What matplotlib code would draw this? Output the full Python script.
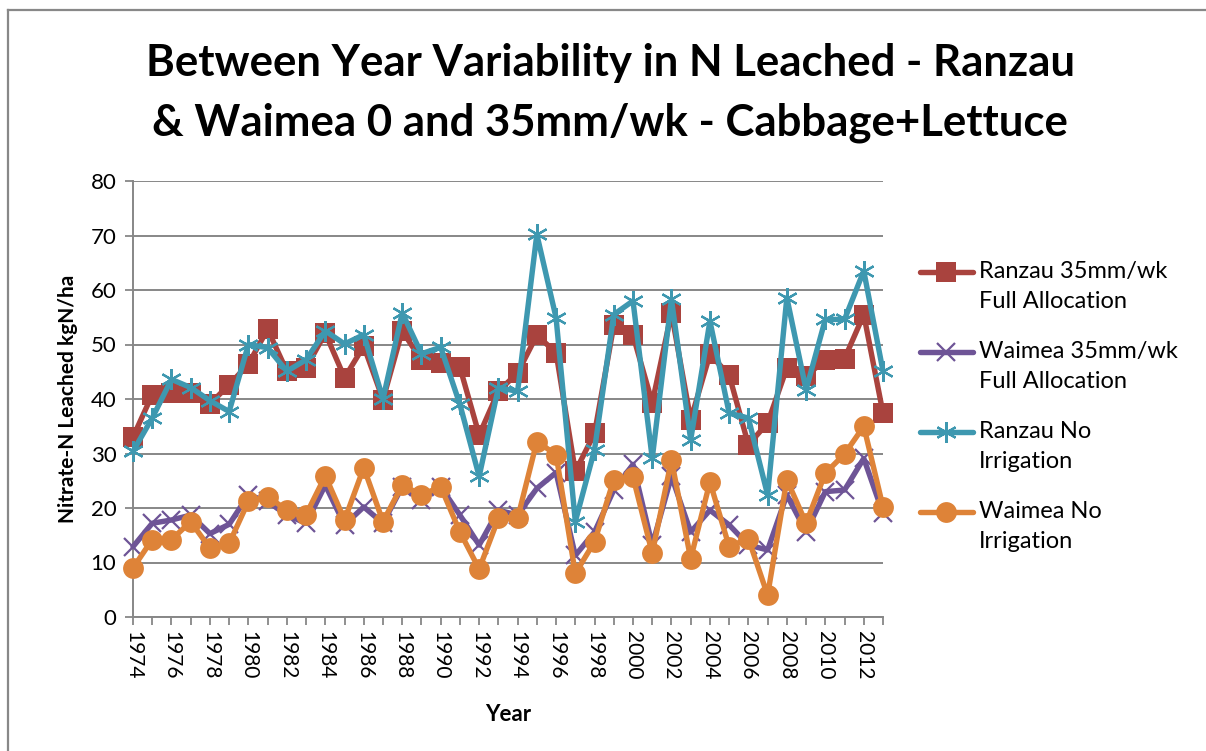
import matplotlib
matplotlib.use("Agg")
import matplotlib.pyplot as plt
from matplotlib.lines import Line2D

plt.rcParams['font.family'] = ['Lato', 'DejaVu Sans']

years = list(range(1974, 2014))

ranzau_35 = [33.0, 40.8, 41.1, 41.1, 39.1, 42.6, 46.4, 52.8, 45.1, 45.7,
             52.1, 43.9, 49.7, 39.9, 52.5, 47.1, 46.6, 45.8, 33.4, 41.4,
             44.8, 51.7, 48.5, 26.7, 33.7, 53.5, 51.7, 39.3, 55.8, 36.2,
             48.2, 44.4, 31.6, 35.6, 45.7, 44.2, 47.2, 47.4, 55.5, 37.4]
waimea_35 = [12.9, 17.2, 17.8, 18.7, 15.3, 17.0, 22.4, 21.2, 18.7, 17.2,
             24.2, 16.9, 20.2, 17.2, 23.9, 21.5, 23.9, 18.7, 13.2, 19.6,
             18.7, 23.6, 26.5, 11.3, 15.6, 23.3, 28.0, 13.2, 25.8, 15.6,
             19.6, 16.9, 13.2, 12.3, 22.4, 15.6, 23.0, 23.3, 29.1, 19.0]
ranzau_0 = [30.4, 36.5, 43.6, 42.1, 39.7, 37.7, 50.0, 49.4, 45.1, 47.2,
            52.5, 50.1, 51.8, 40.0, 55.8, 48.3, 49.5, 39.0, 25.8, 42.1,
            41.4, 70.2, 54.9, 17.5, 30.7, 55.5, 58.0, 29.1, 58.3, 32.5,
            54.3, 37.4, 36.5, 22.4, 58.6, 41.7, 54.6, 54.6, 63.5, 45.1]
waimea_0 = [9.0, 14.2, 14.2, 17.5, 12.6, 13.5, 21.2, 22.1, 19.6, 18.8,
            25.9, 17.8, 27.4, 17.5, 24.2, 22.4, 23.9, 15.6, 8.8, 18.1,
            18.1, 32.2, 29.8, 8.0, 13.8, 25.2, 25.7, 11.7, 28.8, 10.7,
            24.8, 12.9, 14.4, 4.0, 25.2, 17.2, 26.4, 29.9, 35.0, 20.2]

labels = ["Ranzau 35mm/wk\nFull Allocation",
          "Waimea 35mm/wk\nFull Allocation",
          "Ranzau No\nIrrigation",
          "Waimea No\nIrrigation"]
title = "Between Year Variability in N Leached - Ranzau\n& Waimea 0 and 35mm/wk - Cabbage+Lettuce"

c_red = '#A9433E'
c_pur = '#6E5496'
c_teal = '#3E98B0'
c_or = '#DE8338'
grid_c = '#878787'

W, H = 1206, 751
fig = plt.figure(figsize=(W / 100, H / 100), dpi=100)
ax = fig.add_axes([133 / W, (H - 617) / H, 750 / W, 436 / H])

styles = [
    dict(color=c_red, marker='s', markersize=14, markeredgewidth=0),
    dict(color=c_pur, marker='x', markersize=13, markeredgewidth=1.6),
    dict(color=c_teal, marker=(6, 2, 0), markersize=15, markeredgewidth=1.6),
    dict(color=c_or, marker='o', markersize=15, markeredgewidth=0),
]
series = [ranzau_35, waimea_35, ranzau_0, waimea_0]
for s, st in zip(series, styles):
    ax.plot(years, s, lw=3.9, solid_joinstyle='round', solid_capstyle='round',
            clip_on=False, zorder=3, **st)

ax.set_xlim(years[0], years[-1])
ax.set_ylim(0, 80)
ax.set_yticks(range(0, 81, 10))
ax.set_xticks(years)
ax.set_xticklabels([str(y) if (y % 2 == 0) else '' for y in years],
                   rotation=-90, fontsize=15)
ax.tick_params(axis='y', labelsize=16, length=6, width=1.3, color=grid_c, pad=6)
ax.tick_params(axis='x', length=6, width=1.3, color=grid_c, pad=4)
ax.grid(axis='y', color=grid_c, lw=1.4)
ax.set_axisbelow(True)
for sp in ['top', 'right']:
    ax.spines[sp].set_visible(False)
for sp in ['left', 'bottom']:
    ax.spines[sp].set_color(grid_c)
    ax.spines[sp].set_linewidth(1.4)

ax.set_ylabel("Nitrate-N Leached kgN/ha", fontsize=15, fontweight='bold', labelpad=9)
ax.set_xlabel("Year", fontsize=16, fontweight='bold', labelpad=18)

fig.text(610 / W, 1 - 93 / H, title, ha='center', va='center', fontsize=31.5,
         fontweight='bold', linespacing=1.58)

# legend (manual)
leg_y = [272, 352, 432, 512]
for lab, st, y in zip(labels, styles, leg_y):
    yy = 1 - y / H
    fig.add_artist(Line2D([920 / W, 973 / W], [yy, yy], transform=fig.transFigure,
                          lw=3.9, solid_capstyle='round', color=st['color']))
    fig.add_artist(Line2D([946.5 / W], [yy], transform=fig.transFigure,
                          linestyle='none', **st))
    fig.text(979 / W, yy + 11 / H, lab, ha='left', va='top', fontsize=17,
             linespacing=1.5)

# chart-area border
fig.add_artist(Line2D([7.5 / W, 7.5 / W], [0, 1 - 10 / H], transform=fig.transFigure,
                      color='#888888', lw=1.6))
fig.add_artist(Line2D([7.5 / W, 1], [1 - 10 / H, 1 - 10 / H], transform=fig.transFigure,
                      color='#888888', lw=1.6))

fig.savefig("out.png", dpi=100)
